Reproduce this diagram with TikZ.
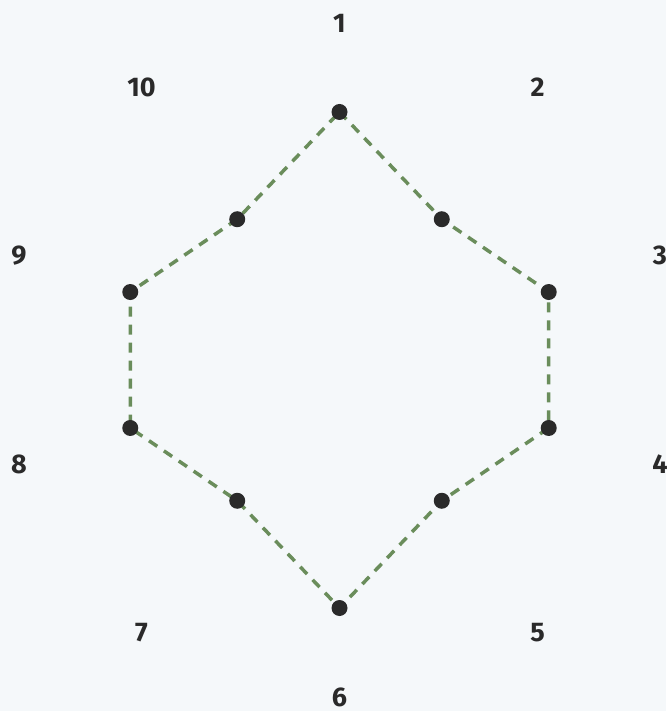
\documentclass[tikz,border=0pt]{standalone}
\usepackage{fontspec}
\setmainfont{Fira Sans}
\usepackage{tikz}
\usepackage{xcolor}

\definecolor{bgcol}{HTML}{F5F8FA}
\definecolor{linecol}{HTML}{6A8D5B}
\definecolor{dotcol}{HTML}{2A2A2A}

\begin{document}
\begin{tikzpicture}[x=1pt, y=1pt, thick,
    dot/.style={circle, fill=dotcol, inner sep=0pt, minimum size=16pt},
    axislabel/.style={font=\fontsize{27}{27}\selectfont\bfseries, text=dotcol},
    radar/.style={draw=linecol, line width=3.5pt, dash pattern=on 10pt off 8pt}]
    % canvas
    \fill[bgcol] (-339.5,-351) rectangle (326.5,360);
    \useasboundingbox (-339.5,-351) rectangle (326.5,360);
    % axis labels
    \foreach \i in {1,...,10}
        \node[axislabel] (l\i) at ({90-36*(\i-1)}:337) {\i};
    % data points
    \foreach \i/\r in {1/248, 2/174, 3/220, 4/220, 5/174, 6/248, 7/174, 8/220, 9/220, 10/174}
        \coordinate (c\i) at ({90-36*(\i-1)}:\r);
    % outline
    \draw[radar] (c1) -- (c2) -- (c3) -- (c4) -- (c5) -- (c6) -- (c7) -- (c8) -- (c9) -- (c10) -- cycle;
    \foreach \i in {1,...,10}
        \node[dot] (p\i) at (c\i) {};
\end{tikzpicture}
\end{document}
